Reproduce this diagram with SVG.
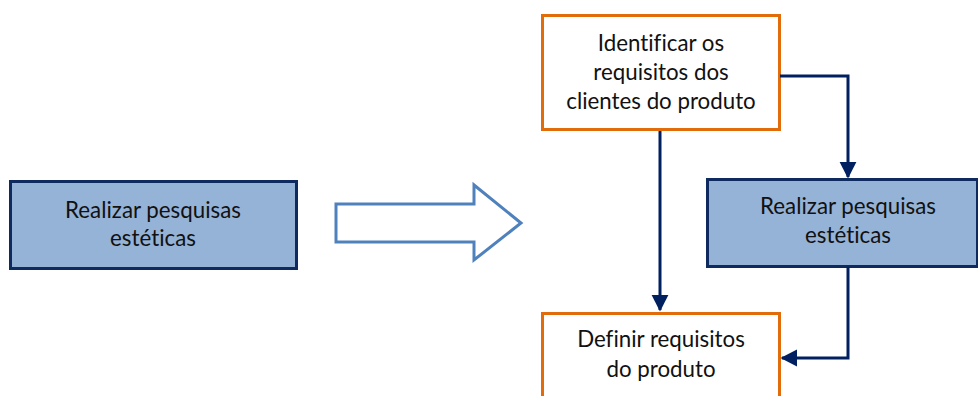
<svg xmlns="http://www.w3.org/2000/svg" width="978" height="396" viewBox="0 0 978 396">
<style>
.blue{fill:#95b3d7;stroke:#0f2a5e;stroke-width:3}
.orange{fill:#ffffff;stroke:#e36c0a;stroke-width:3}
.t{font-family:Lato,"Open Sans","Liberation Sans",sans-serif;font-size:22.3px;fill:#111;text-anchor:middle;font-variant-ligatures:none}
.c{fill:none;stroke:#002060;stroke-width:3}
</style>
<defs>
<marker id="ah" markerWidth="6" markerHeight="6" refX="5" refY="3" orient="auto" markerUnits="strokeWidth">
<path d="M0,0.2 L5.5,3 L0,5.8 Z" fill="#002060"/>
</marker>
</defs>
<rect width="978" height="396" fill="#ffffff"/>
<g id="left-box">
<rect class="blue" x="10.5" y="181.5" width="286" height="87"/>
<text class="t" x="153" y="218">Realizar pesquisas</text>
<text class="t" x="153" y="246">estéticas</text>
</g>
<g id="big-arrow">
<path d="M336,204 L474,204 L474,185 L521,223 L474,260 L474,242 L336,242 Z" fill="#ffffff" stroke="#4f81bd" stroke-width="3"/>
</g>
<g id="top-box">
<rect class="orange" x="542.5" y="15.5" width="237" height="114"/>
<text class="t" x="661" y="51">Identificar os</text>
<text class="t" x="661" y="80">requisitos dos</text>
<text class="t" x="661" y="109">clientes do produto</text>
</g>
<g id="right-box">
<rect class="blue" x="707.5" y="179.5" width="270" height="87"/>
<text class="t" x="848" y="214">Realizar pesquisas</text>
<text class="t" x="848" y="243">estéticas</text>
</g>
<g id="bottom-box">
<rect class="orange" x="542.5" y="313.5" width="237" height="100"/>
<text class="t" x="661" y="347">Definir requisitos</text>
<text class="t" x="661" y="377">do produto</text>
</g>
<g id="connectors">
<path class="c" d="M660,131 L660,310" marker-end="url(#ah)"/>
<path class="c" d="M780,76 L848,76 L848,177" marker-end="url(#ah)"/>
<path class="c" d="M848,267 L848,358 L782,358" marker-end="url(#ah)"/>
</g>
</svg>
